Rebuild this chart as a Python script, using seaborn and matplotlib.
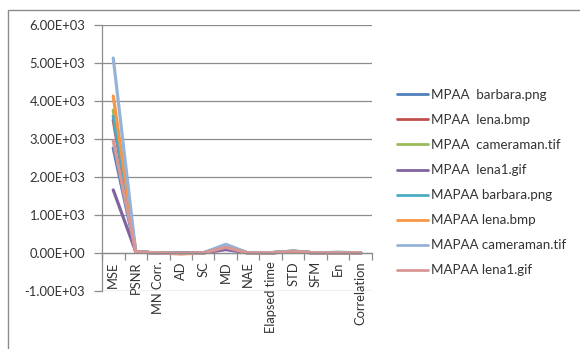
import matplotlib
matplotlib.use("Agg")
import matplotlib.pyplot as plt
from matplotlib.lines import Line2D
import seaborn as sns
import pandas as pd
import numpy as np

categories = ["MSE", "PSNR", "MN Corr.", "AD", "SC", "MD", "NAE",
              "Elapsed time", "STD", "SFM", "En", "Correlation"]

series_names = ["MPAA  barbara.png", "MPAA  lena.bmp", "MPAA  cameraman.tif",
                "MPAA  lena1.gif", "MAPAA barbara.png", "MAPAA lena.bmp",
                "MAPAA cameraman.tif", "MAPAA lena1.gif"]

mpaa_barbara   = [2760, 28, 1, -5, 1, 150, 0.1, 6, 45, 1, 7, 1]
mpaa_lena      = [3500, 30, 1, -8, 1, 140, 0.1, 5, 40, 1, 7, 1]
mpaa_camera    = [3760, 27, 1, -10, 1, 190, 0.1, 5, 50, 1, 7, 1]
mpaa_lena1     = [1660, 32, 1, -6, 1, 90, 0.1, 4, 38, 1, 7, 1]
mapaa_barbara  = [3600, 28, 1, -12, 1, 200, 0.1, 8, 47, 1, 20, 1]
mapaa_lena     = [4130, 27, 1, -25, 1, 170, 0.1, 7, 42, 1, 7, 1]
mapaa_camera   = [5130, 26, 1, -15, 1, 230, 0.1, 9, 52, 1, 8, 1]
mapaa_lena1    = [2950, 29, 1, -9, 1, 150, 0.1, 6, 40, 1, 7, 1]

series_values = [mpaa_barbara, mpaa_lena, mpaa_camera, mpaa_lena1,
                 mapaa_barbara, mapaa_lena, mapaa_camera, mapaa_lena1]

colors = ["#4F81BD", "#C0504D", "#9BBB59", "#8064A2",
          "#4BACC6", "#F79646", "#95B3D7", "#D99694"]

y_ticks = [-1000, 0, 1000, 2000, 3000, 4000, 5000, 6000]
y_tick_labels = ["-1.00E+03", "0.00E+00", "1.00E+03", "2.00E+03",
                 "3.00E+03", "4.00E+03", "5.00E+03", "6.00E+03"]

rows = []
for name, vals in zip(series_names, series_values):
    for i, (c, v) in enumerate(zip(categories, vals)):
        rows.append({"series": name, "pos": i, "category": c, "value": v})
df = pd.DataFrame(rows)

sns.set_style("white")
plt.rcParams["font.family"] = ["Lato", "DejaVu Sans"]

W, H = 580, 349
fig = plt.figure(figsize=(W / 100, H / 100), dpi=100)
ax = fig.add_axes([102 / W, 1 - 291 / H, (372 - 102) / W, (291 - 25) / H])

sns.lineplot(data=df, x="pos", y="value", hue="series", hue_order=series_names,
             palette=colors, linewidth=2.3, sort=False, legend=True, ax=ax)

ax.set_xlim(-0.5, len(categories) - 0.5)
ax.set_ylim(-1000, 6000)
ax.set_yticks(y_ticks)
ax.set_yticklabels(y_tick_labels, fontsize=9.4, color="#333333")
ax.yaxis.grid(True, color="#8C8C8C", linewidth=0.9)
ax.set_axisbelow(True)
ax.tick_params(axis="y", length=6, color="#8C8C8C", width=0.9, pad=6, direction="out", left=True)

for s in ["top", "right"]:
    ax.spines[s].set_visible(False)
ax.spines["left"].set_color("#8C8C8C")
ax.spines["left"].set_linewidth(0.9)
ax.spines["bottom"].set_position(("data", 0))
ax.spines["bottom"].set_color("#8C8C8C")
ax.spines["bottom"].set_linewidth(0.9)

ax.set_xticks(np.arange(-0.5, len(categories) + 0.5, 1.0))
ax.set_xticklabels([])
ax.set_xticks(range(len(categories)), minor=True)
ax.set_xticklabels(categories, minor=True, rotation=90, fontsize=9.3, color="#333333")
ax.tick_params(axis="x", which="major", length=5, color="#8C8C8C", width=0.9, direction="out", bottom=True)
ax.tick_params(axis="x", which="minor", length=0, pad=6, bottom=True)
ax.set_xlabel("")
ax.set_ylabel("")

handles, labels = ax.get_legend_handles_labels()
if ax.legend_:
    ax.legend_.remove()
leg = fig.legend(handles, labels, loc="upper left",
                 bbox_to_anchor=(385 / W, 1 - 77 / H), frameon=False,
                 fontsize=9.6, handlelength=2.3, handletextpad=0.25,
                 labelspacing=0.98)
for t in leg.get_texts():
    t.set_color("#333333")
for l in leg.get_lines():
    l.set_linewidth(2.0)

# outer chart border (partially cropped)
fig.add_artist(Line2D([8 / W, 8 / W, 1.0], [0.0, 1 - 10 / H, 1 - 10 / H],
                      transform=fig.transFigure, color="#8C8C8C", linewidth=1.0))

fig.savefig("out.png", dpi=100)
